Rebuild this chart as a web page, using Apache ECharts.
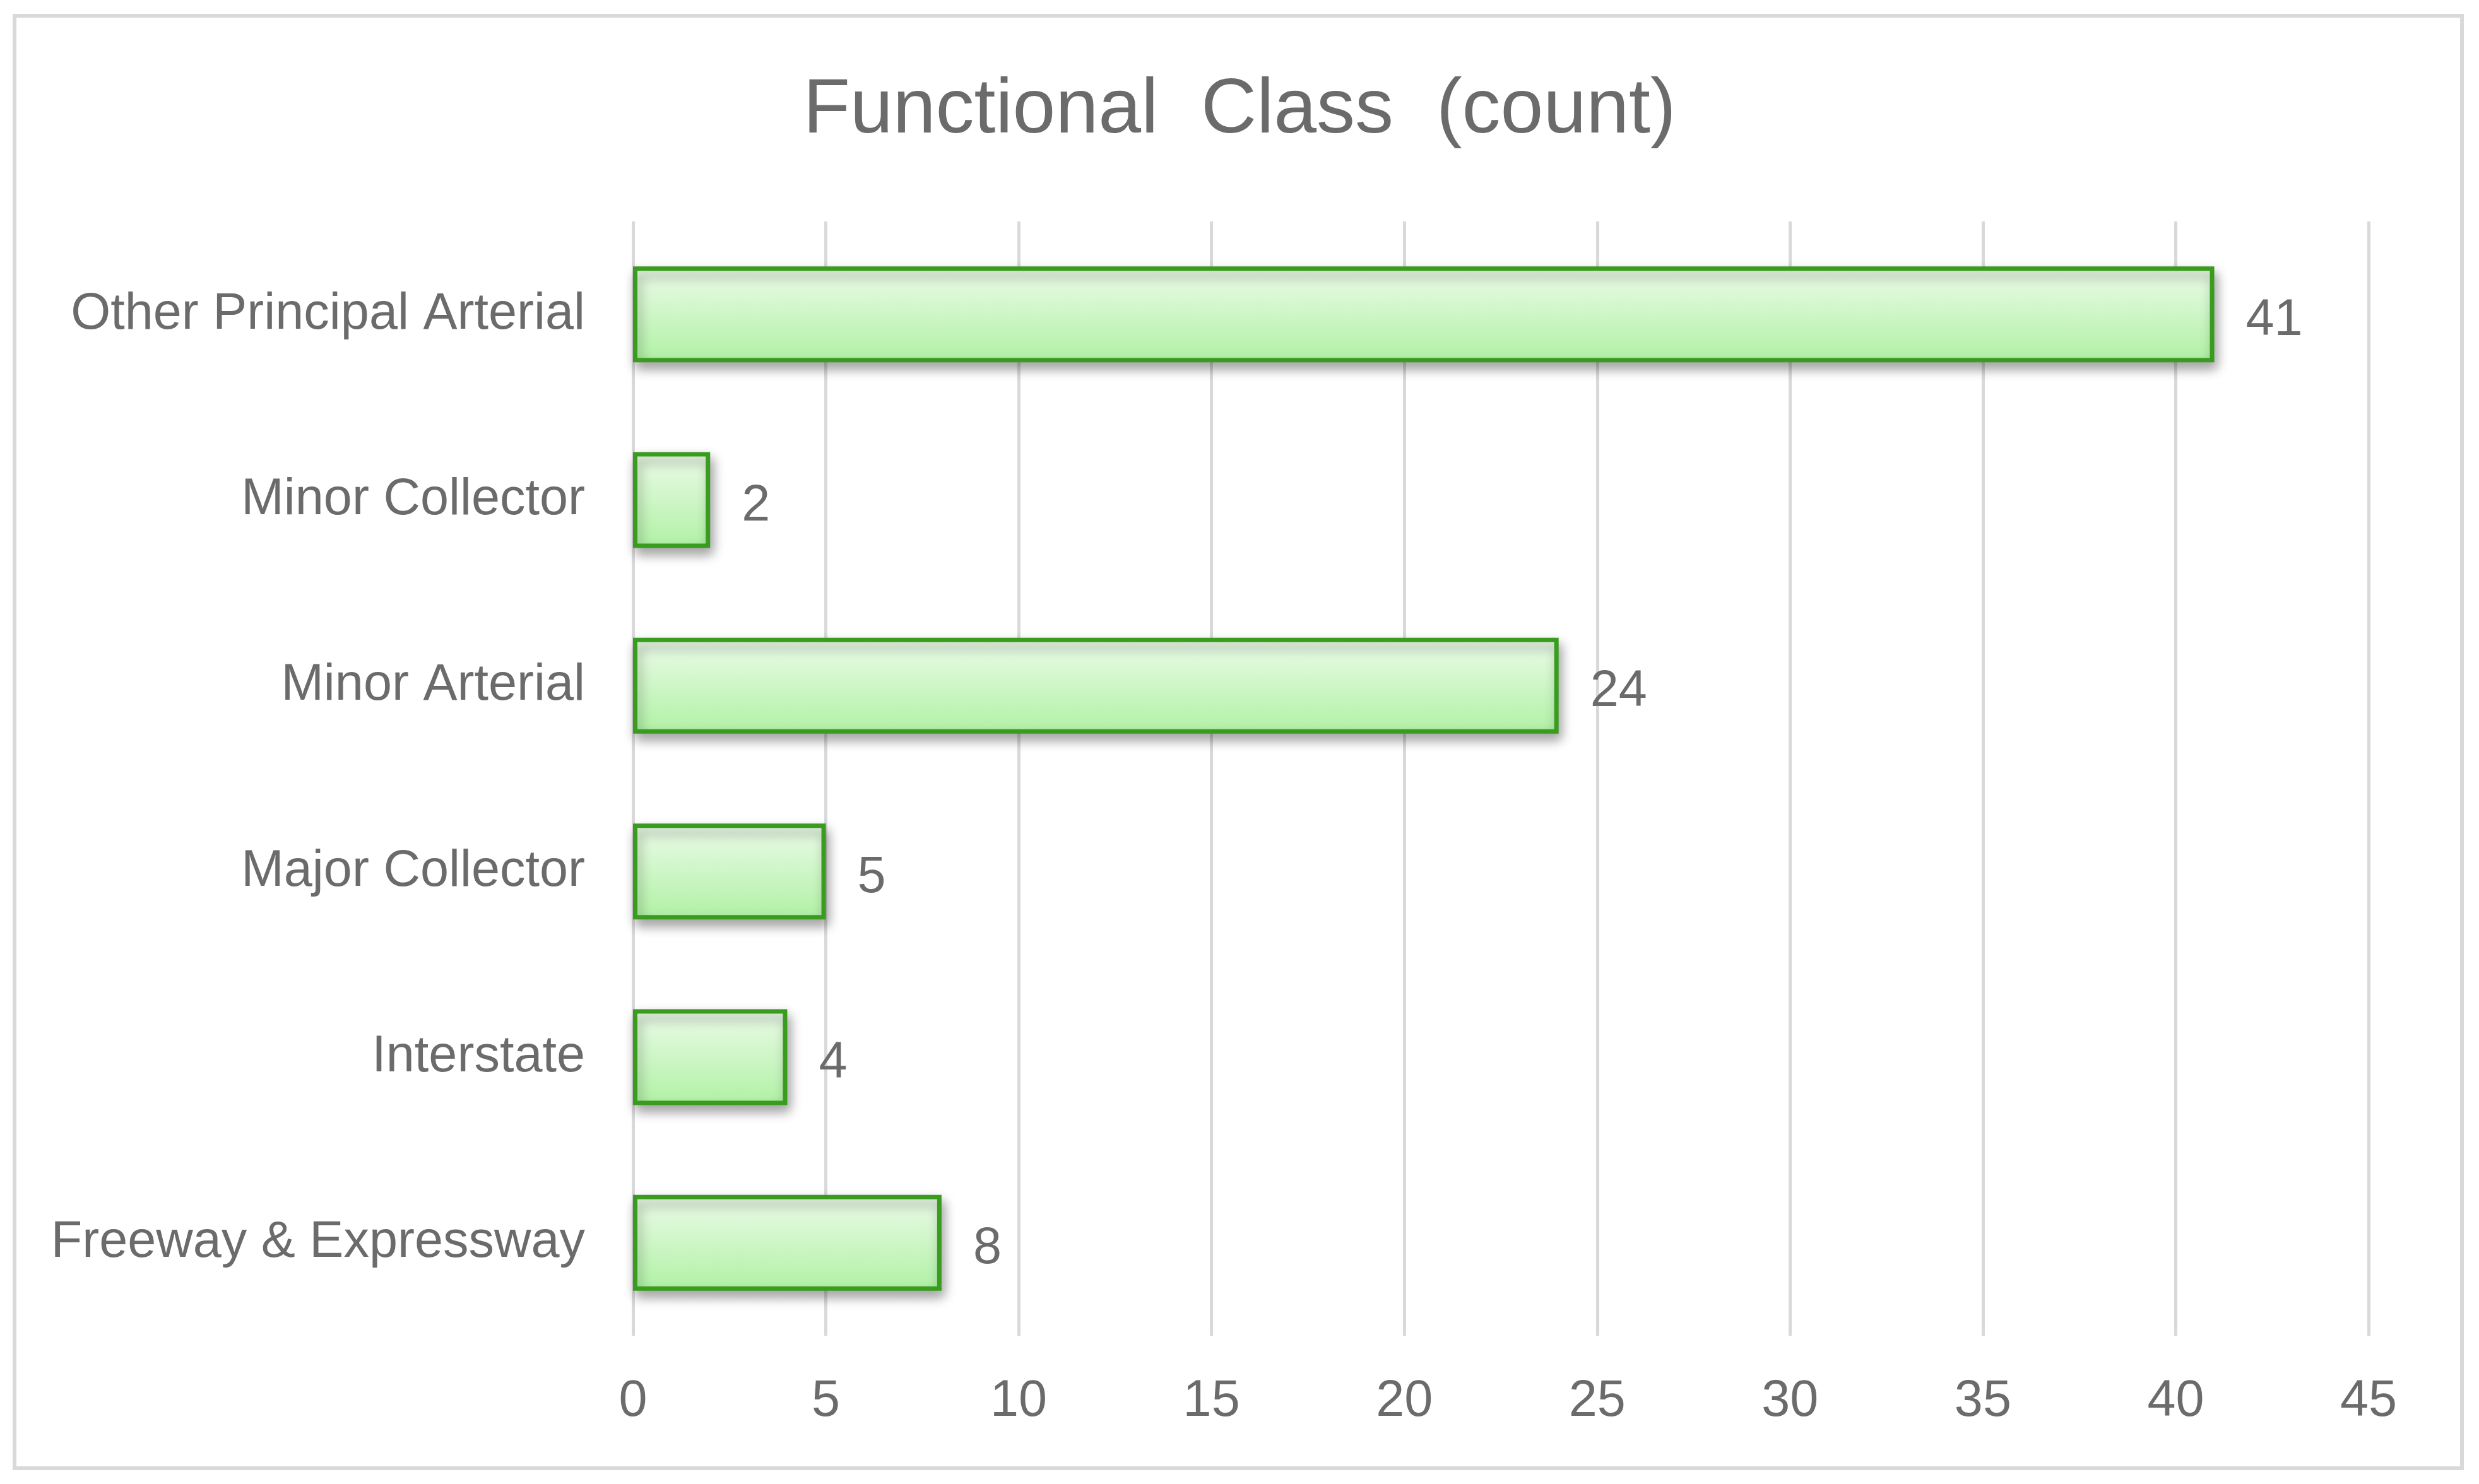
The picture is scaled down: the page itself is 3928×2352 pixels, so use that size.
<!DOCTYPE html>
<html>
<head>
<meta charset="utf-8">
<title>Functional Class (count)</title>
<script src="https://cdn.jsdelivr.net/npm/echarts@6/dist/echarts.min.js"></script>
<style>
  html, body { margin: 0; padding: 0; background: #fff; }
  #charts { width: 3928px; height: 2352px; }
</style>
</head>
<body>
<div id="charts"></div>
<script>
// data, bottom to top as drawn
var cat = ['Freeway & Expressway', 'Interstate', 'Major Collector', 'Minor Arterial', 'Minor Collector', 'Other Principal Arterial']
var values = [8, 4, 5, 24, 2, 41]
var ticks = [0, 5, 10, 15, 20, 25, 30, 35, 40, 45]

var textColor = '#6b6b6b'
var myChart = echarts.init(document.getElementById('charts'));

var option = {
    backgroundColor: '#fff',
    textStyle: { fontFamily: 'Liberation Sans, Arial, sans-serif' },
    graphic: [
        {
            type: 'rect',
            z: -10,
            shape: { x: 23, y: 25, width: 3878, height: 2302 },
            style: { fill: '#fff', stroke: '#d9d9d9', lineWidth: 6 }
        }
    ],
    title: {
        text: 'Functional  Class  (count)',
        left: 'center',
        top: 110,
        textStyle: {
            color: textColor,
            fontSize: 122,
            fontWeight: 'normal',
            fontFamily: 'Liberation Sans, Arial, sans-serif'
        }
    },
    grid: {
        left: 1003,
        right: 175,
        top: 351,
        bottom: 235
    },
    xAxis: {
        type: 'value',
        min: ticks[0],
        max: ticks[ticks.length - 1],
        interval: 5,
        axisLine: { show: false },
        axisTick: { show: false },
        splitLine: { lineStyle: { color: '#d9d9d9', width: 5 } },
        axisLabel: {
            color: textColor,
            fontSize: 81,
            margin: 64
        }
    },
    yAxis: {
        type: 'category',
        data: cat,
        axisLine: { show: false },
        axisTick: { show: false },
        axisLabel: {
            color: textColor,
            fontSize: 81,
            margin: 76,
            padding: [6, 0, 0, 0]
        }
    },
    series: [
        {
            name: 'count',
            type: 'bar',
            data: values,
            barWidth: 152,
            label: {
                show: true,
                position: 'right',
                distance: 50,
                offset: [0, 10],
                color: textColor,
                fontSize: 81
            },
            itemStyle: {
                color: new echarts.graphic.LinearGradient(0, 0, 0, 1, [
                    { offset: 0, color: '#ecfbe9' },
                    { offset: 1, color: '#b0f1a4' }
                ]),
                borderColor: '#3a9c1f',
                borderWidth: 7,
                shadowColor: 'rgba(0,0,0,0.35)',
                shadowBlur: 18,
                shadowOffsetX: 4,
                shadowOffsetY: 10
            }
        }
    ]
};

myChart.setOption(option);
</script>
</body>
</html>
